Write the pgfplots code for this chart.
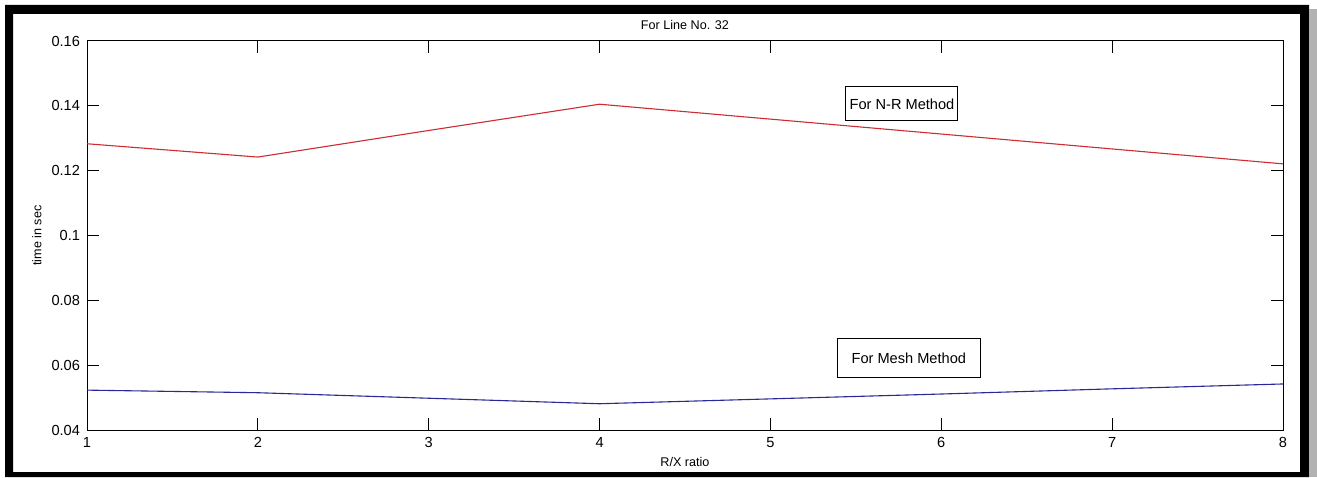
\documentclass[border=0pt]{standalone}
\usepackage{pgfplots}
\pgfplotsset{compat=1.18}
\usepackage{fontspec}
\setmainfont{Liberation Sans}
\definecolor{nrred}{RGB}{205,45,50}
\definecolor{meshblue}{RGB}{40,40,150}
\begin{document}
\begin{tikzpicture}[x=0.5pt,y=0.5pt]
\path[use as bounding box] (0,0) rectangle (1317,477);
\fill[white] (0,0) rectangle (1317,477);
% outer frame
\fill[black,even odd rule] (5,0) rectangle (1309,472) (13,5) rectangle (1300,463);
\fill[gray!60] (1309,0) rectangle (1317,468);
\begin{axis}[
  at={(43.5pt,23.5pt)}, anchor=south west,
  scale only axis, width=598pt, height=194.5pt,
  xmin=1, xmax=8, ymin=0.04, ymax=0.16,
  xtick={1,...,8}, ytick={0.04,0.06,...,0.16},
  y tick label style={/pgf/number format/fixed, /pgf/number format/precision=2},
  /pgf/number format/assume math mode=true,
  tick align=inside, major tick length=6pt,
  tick style={black, line width=0.5pt},
  axis line style={black, line width=0.5pt},
  ticklabel style={font=\fontsize{7.3}{8}\selectfont},
  x tick label style={yshift=0pt},
  xlabel={R/X ratio},
  xlabel style={font=\fontsize{6.3}{7}\selectfont, at={(axis description cs:0.5,-0.082)}, anchor=center},
  ylabel={time in sec},
  ylabel style={font=\fontsize{6.3}{7}\selectfont, at={(axis description cs:-0.042,0.5)}, anchor=center},
  clip=false,
]
\addplot[nrred, line width=0.55pt] coordinates {
 (1,0.1283) (2,0.1242) (3,0.1324) (4,0.1405) (5,0.1359) (6,0.1313) (7,0.1267) (8,0.1221)};
\addplot[meshblue, line width=0.55pt] coordinates {
 (1,0.0523) (2,0.0515) (3,0.0498) (4,0.0481) (5,0.0496) (6,0.0511) (7,0.0527) (8,0.0542)};
\node[draw=black, line width=0.5pt, fill=white, inner sep=0pt, minimum width=56pt, minimum height=17pt, font=\fontsize{7.3}{8}\selectfont] at (axis cs:5.77,0.1406) {For N-R Method};
\node[draw=black, line width=0.5pt, fill=white, inner sep=0pt, minimum width=71.5pt, minimum height=19.5pt, font=\fontsize{7.3}{8}\selectfont] at (axis cs:5.81,0.0622) {For Mesh Method};
\node[font=\fontsize{6.3}{7}\selectfont, anchor=center] at (axis description cs:0.5,1.041) {For Line No. 32};
\end{axis}
\end{tikzpicture}
\end{document}
